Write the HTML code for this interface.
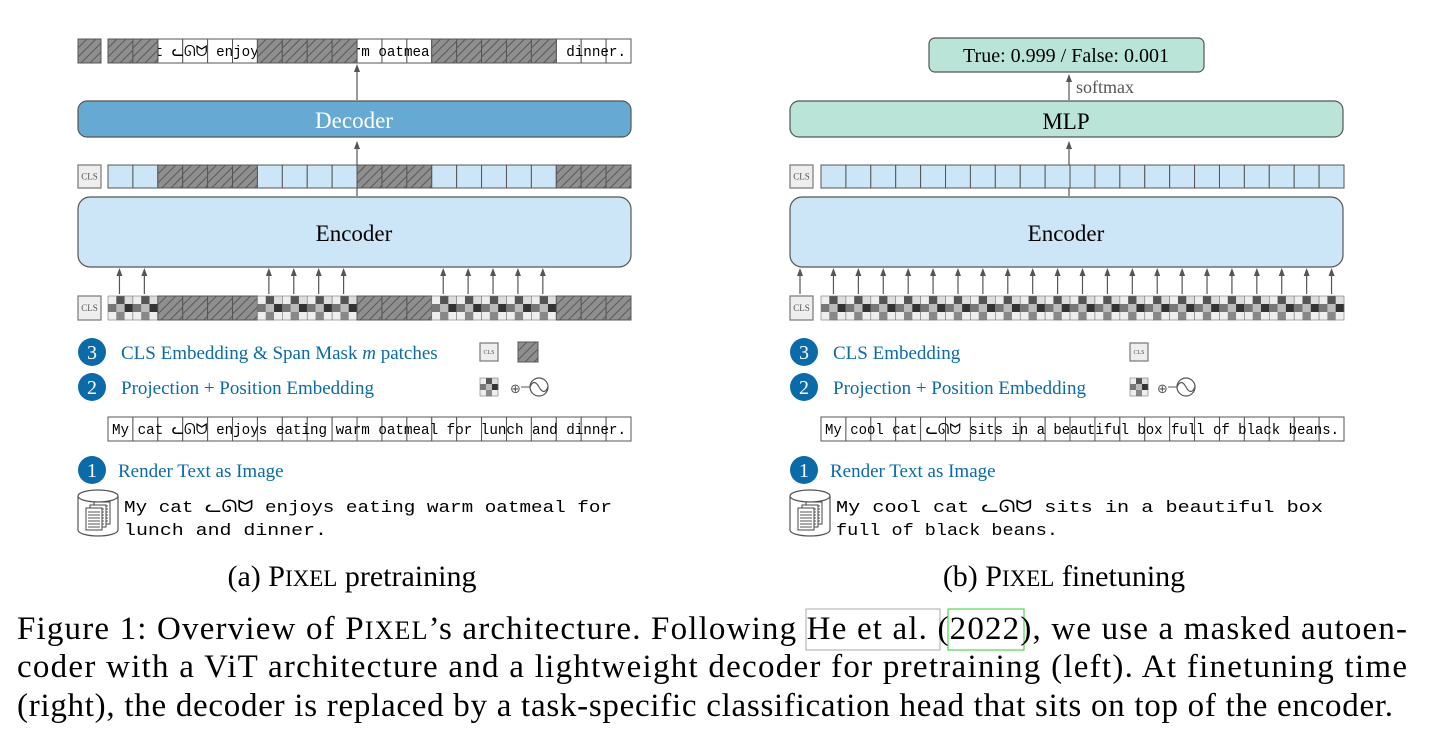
<!DOCTYPE html>
<html><head><meta charset="utf-8">
<style>
html,body{margin:0;padding:0;background:#fff;}
svg{display:block;}
</style></head>
<body>
<svg id="s" width="1440" height="744" viewBox="0 0 1440 744" xmlns="http://www.w3.org/2000/svg">
<defs>
<marker id="ar" markerWidth="8" markerHeight="8" refX="4" refY="4" orient="auto" markerUnits="userSpaceOnUse">
<path d="M0,1 L8,4 L0,7 z" fill="#555"/>
</marker>
</defs>
<g id="g"></g>
</svg>
<script>
const NS="http://www.w3.org/2000/svg";const g=document.getElementById('g');
function el(t,a,txt){const e=document.createElementNS(NS,t);for(const k in a)e.setAttribute(k,a[k]);if(txt!==undefined)e.textContent=txt;g.appendChild(e);return e;}
const W=523/21;
function hatch(x,y,w,h){el('rect',{x,y,width:w,height:h,fill:'#8f8f8f',stroke:'#555','stroke-width':1});
 for(let i=-h;i<w;i+=9){let x1=x+i,y1=y+h,x2=x+i+h,y2=y;let t0=Math.max(0,x-x1),t1=Math.max(0,x2-(x+w));
 el('line',{x1:x1+t0,y1:y1-t0,x2:x2-t1,y2:y2+t1,stroke:'#5a5a5a','stroke-width':1});}}
const C=[['#eee','#555','#ddd'],['#777','#bbb','#333'],['#eee','#888','#eee']];
function checker(x,y,w,h){for(let r=0;r<3;r++)for(let c=0;c<3;c++)el('rect',{x:x+c*w/3,y:y+r*h/3,width:w/3+0.3,height:h/3+0.3,fill:C[r][c]});el('rect',{x,y,width:w,height:h,fill:'none',stroke:'#777','stroke-width':0.6});}
function cls(x,y,w,h,fs){el('rect',{x,y,width:w,height:h,fill:'#eee',stroke:'#777','stroke-width':1.2});el('text',{x:x+w/2,y:y+h/2+fs*0.35,'font-family':'Liberation Serif','font-size':fs,fill:'#555','text-anchor':'middle'},'CLS');}
function arrow(x,y1,y2){el('line',{x1:x,y1:y1,x2:x,y2:y2+4,stroke:'#555','stroke-width':1.2,'marker-end':'url(#ar)'});}
function strip(x,y,txt){for(let i=0;i<21;i++)el('rect',{x:x+i*W,y,width:W,height:24,fill:'#fff',stroke:'#555','stroke-width':1});
 el('text',{x:x+4,y:y+17,'font-family':'Liberation Mono, DejaVu Sans Mono, monospace','font-size':15,textLength:514,lengthAdjust:'spacingAndGlyphs',fill:'#000'},txt);}
function circ(cx,cy,n){el('circle',{cx,cy,r:14,fill:'#0b6aa8'});el('text',{x:cx,y:cy+7,'font-family':'Liberation Serif','font-size':20,fill:'#fff','text-anchor':'middle'},n);}
function blue(x,y,t,fs){return el('text',{x,y,'font-family':'Liberation Serif','font-size':fs||19,fill:'#0b6aa8'},t);}
function cyl(x,y){el('path',{d:`M${x},${y+6} L${x},${y+40} A20,6 0 0 0 ${x+40},${y+40} L${x+40},${y+6}`,fill:'#fff',stroke:'#555','stroke-width':1.2});el('ellipse',{cx:x+20,cy:y+6,rx:20,ry:6,fill:'#fff',stroke:'#555','stroke-width':1.2});
 for(let k=0;k<3;k++){el('rect',{x:x+16-k*4,y:y+12+k*3,width:16,height:22,fill:'#fff',stroke:'#444','stroke-width':1});for(let j=0;j<6;j++)el('line',{x1:x+18-k*4,y1:y+16+k*3+j*3,x2:x+30-k*4,y2:y+16+k*3+j*3,stroke:'#555','stroke-width':1});}}
function pe(x,y){el('text',{x,y:y+6,'font-family':'DejaVu Sans','font-size':13,fill:'#555'},'⊕');el('line',{x1:x+11,y1:y,x2:x+20,y2:y,stroke:'#555'});el('circle',{cx:x+29,cy:y,r:9,fill:'#fff',stroke:'#555','stroke-width':1.2});el('path',{d:`M${x+20},${y} Q${x+24},${y-9} ${x+29},${y} T${x+38},${y}`,fill:'none',stroke:'#555','stroke-width':1.2});}
function mono(x,y,t,len){el('text',{x,y,'font-family':'Liberation Mono, DejaVu Sans Mono, monospace','font-size':17,fill:'#000',textLength:len,lengthAdjust:'spacingAndGlyphs'},t);}
const cat='ᓚᘏᗢ';
const L=108;
const txtL='My cat '+cat+' enjoys eating warm oatmeal for lunch and dinner.';
strip(L,39,txtL);
const topMask=[1,1,0,0,0,0,1,1,1,1,0,0,0,1,1,1,1,1,0,0,0];
for(let i=0;i<21;i++)if(topMask[i])hatch(L+i*W,39,W,24);
hatch(78,39,23,24);
arrow(357,100,64);
el('rect',{x:78,y:101,width:553,height:36,rx:9,fill:'#66aad3',stroke:'#555','stroke-width':1.2});
el('text',{x:354,y:128,'font-family':'Liberation Serif','font-size':23,fill:'#fff','text-anchor':'middle'},'Decoder');
arrow(357,196,141);
cls(78,165,23,23,9);
const mid=[0,0,1,1,1,1,0,0,0,0,1,1,1,0,0,0,0,0,1,1,1];
for(let i=0;i<21;i++){if(mid[i])hatch(L+i*W,165,W,23);else el('rect',{x:L+i*W,y:165,width:W,height:23,fill:'#cce6f7',stroke:'#555','stroke-width':1});}
el('rect',{x:78,y:197,width:553,height:70,rx:12,fill:'#cce6f7',stroke:'#555','stroke-width':1.2});
el('text',{x:354,y:241,'font-family':'Liberation Serif','font-size':23,fill:'#000','text-anchor':'middle'},'Encoder');
cls(78,296,23,24,9);
for(let i=0;i<21;i++){if(mid[i])hatch(L+i*W,296,W,24);else{checker(L+i*W,296,W,24);}}
[0,1,6,7,8,9,13,14,15,16,17].forEach(i=>arrow(L+i*W+W/2-1,294,268));
circ(92,352,'3');
const t3=blue(121,359,'');t3.innerHTML='CLS Embedding &amp; Span Mask <tspan font-style="italic">m</tspan> patches';
cls(480,343,18,18,6);hatch(518,342,20,20);
circ(92,387,'2');blue(121,394,'Projection + Position Embedding');
checker(480,378,18,18);pe(510,387);
strip(L,417,txtL);
circ(92,470,'1');blue(118,477,'Render Text as Image');
cyl(78,490);
mono(124,512,'My cat '+cat+' enjoys eating warm oatmeal for',488);
mono(124,535,'lunch and dinner.',203);
const ca=el('text',{x:352,y:586,'font-family':'Liberation Serif','font-size':30,fill:'#000','text-anchor':'middle'},'');ca.innerHTML='(a) P<tspan font-size="23">IXEL</tspan> pretraining';
const R=821;
el('rect',{x:929,y:38,width:275,height:34,rx:6,fill:'#b9e4d7',stroke:'#555','stroke-width':1.2});
el('text',{x:1066,y:62,'font-family':'Liberation Serif','font-size':20,fill:'#000','text-anchor':'middle'},'True: 0.999 / False: 0.001');
arrow(1069,100,74);
el('text',{x:1076,y:93,'font-family':'Liberation Serif','font-size':18,fill:'#555'},'softmax');
el('rect',{x:790,y:101,width:553,height:36,rx:9,fill:'#b9e4d7',stroke:'#555','stroke-width':1.2});
el('text',{x:1066,y:129,'font-family':'Liberation Serif','font-size':23,fill:'#000','text-anchor':'middle'},'MLP');
arrow(1069,196,141);
cls(790,165,23,23,9);
for(let i=0;i<21;i++)el('rect',{x:R+i*W,y:165,width:W,height:23,fill:'#cce6f7',stroke:'#555','stroke-width':1});
el('rect',{x:790,y:197,width:553,height:70,rx:12,fill:'#cce6f7',stroke:'#555','stroke-width':1.2});
el('text',{x:1066,y:241,'font-family':'Liberation Serif','font-size':23,fill:'#000','text-anchor':'middle'},'Encoder');
cls(790,296,23,24,9);
for(let i=0;i<21;i++)checker(R+i*W,296,W,24);
arrow(800,294,268);
for(let i=0;i<21;i++)arrow(R+i*W+W/2,294,268);
circ(804,352,'3');blue(833,359,'CLS Embedding');
cls(1130,343,18,18,6);
circ(804,387,'2');blue(833,394,'Projection + Position Embedding');
checker(1130,378,18,18);pe(1157,387);
strip(R,417,'My cool cat '+cat+' sits in a beautiful box full of black beans.');
circ(804,470,'1');blue(830,477,'Render Text as Image');
cyl(790,490);
mono(836,512,'My cool cat '+cat+' sits in a beautiful box',487);
mono(836,535,'full of black beans.',222);
const cb=el('text',{x:1064,y:586,'font-family':'Liberation Serif','font-size':30,fill:'#000','text-anchor':'middle'},'');cb.innerHTML='(b) P<tspan font-size="23">IXEL</tspan> finetuning';
el('rect',{x:806,y:609,width:134,height:41,fill:'none',stroke:'#aaa','stroke-width':1});
el('rect',{x:948,y:609,width:76,height:41,fill:'none',stroke:'#3c3','stroke-width':1});
const l1=el('text',{x:17,y:639,'font-family':'Liberation Serif','font-size':33,fill:'#000',textLength:1390,lengthAdjust:'spacing'},'');
l1.innerHTML='Figure 1: Overview of P<tspan font-size="26">IXEL</tspan>’s architecture. Following He et al. (2022), we use a masked autoen-';
el('text',{x:17,y:677,'font-family':'Liberation Serif','font-size':33,fill:'#000',textLength:1390,lengthAdjust:'spacing'},'coder with a ViT architecture and a lightweight decoder for pretraining (left). At finetuning time');
el('text',{x:17,y:716,'font-family':'Liberation Serif','font-size':33,fill:'#000',textLength:1376,lengthAdjust:'spacing'},'(right), the decoder is replaced by a task-specific classification head that sits on top of the encoder.');
</script>
</body></html>
